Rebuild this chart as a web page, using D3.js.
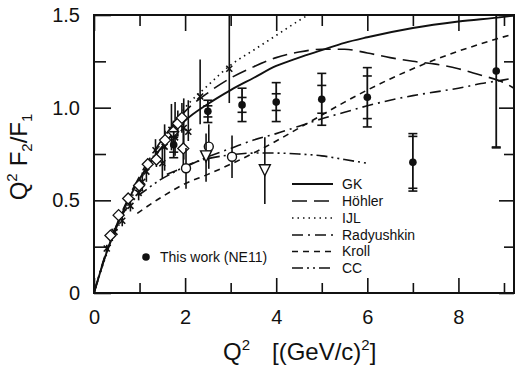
<!DOCTYPE html>
<html><head><meta charset="utf-8">
<script src="https://cdn.jsdelivr.net/npm/d3@7"></script>
<style>
body{margin:0;background:#fff}
svg{display:block}
text{font-family:"Liberation Sans",Arial,Helvetica,sans-serif;fill:#111}
</style>
</head><body><svg id="c" width="515" height="367"></svg>
<script>
// ---------- data ----------
const xMajor = [0, 2, 4, 6, 8];
const xMinor = [1, 3, 5, 7, 9];
const yMajor = [0, 0.5, 1.0, 1.5];
const yLabels = ["0", "0.5", "1.0", "1.5"];
const yMinor = [0.25, 0.75, 1.25];

// model curves [Q2, Q2F2/F1]
const gkCurve = [[0,0],[0.25,0.2],[0.5,0.36],[0.75,0.5],[1,0.615],[1.25,0.71],[1.5,0.79],[1.75,0.865],[2,0.93],[2.5,1.02],[3,1.095],[3.5,1.16],[4,1.225],[4.5,1.27],[5,1.31],[5.5,1.35],[6,1.38],[7,1.43],[8,1.465],[9,1.49],[9.22,1.497]];
const hohlerCurve = [[0,0],[0.25,0.2],[0.5,0.37],[0.75,0.51],[1,0.63],[1.5,0.83],[2,0.98],[2.5,1.08],[3,1.16],[3.5,1.22],[4,1.27],[4.5,1.30],[5,1.315],[5.5,1.315],[6,1.295],[6.5,1.27],[7,1.25],[7.5,1.235],[8,1.21],[8.5,1.175],[9,1.135],[9.22,1.105]];
const ijlCurve = [[0,0],[0.25,0.19],[0.5,0.34],[1,0.6],[1.5,0.82],[2,1.0],[2.5,1.12],[3,1.23],[3.5,1.31],[4,1.39],[4.5,1.47],[4.7,1.5]];
const radyushkinCurve = [[1.6,0.64],[2,0.68],[2.5,0.735],[3,0.78],[3.5,0.825],[4,0.86],[4.5,0.9],[5,0.94],[5.5,0.975],[6,1.01],[6.5,1.04],[7,1.065],[7.5,1.085],[8,1.105],[8.5,1.13],[9,1.15],[9.22,1.16]];
const krollCurve = [[0.95,0.43],[1.5,0.52],[2,0.59],[2.5,0.64],[3,0.695],[3.5,0.755],[4,0.82],[4.5,0.89],[5,0.96],[5.5,1.03],[6,1.095],[6.5,1.155],[7,1.21],[7.5,1.26],[8,1.305],[8.5,1.345],[9.1,1.39]];
const ccCurve = [[0,0],[0.2,0.17],[0.4,0.31],[0.64,0.43],[0.9,0.51],[1.16,0.56],[1.45,0.61],[1.82,0.66],[2.1,0.695],[2.5,0.725],[3,0.745],[3.5,0.755],[4,0.755],[4.5,0.75],[5,0.74],[5.5,0.72],[6,0.70]];

const modelNames = ["GK", "Höhler", "IJL", "Radyushkin", "Kroll", "CC"];
const modelDashes = ["", "15,7", "1.5,4", "11,5,2,5", "6,5", "11,4,2,4,2,4"];

// This work (NE11): filled circles, stat and total errors
const ne11Q2   = [1.75, 2.5, 3.25, 4.0, 5.0, 6.0, 7.0, 8.83];
const ne11Val  = [0.80, 0.98, 1.015, 1.03, 1.045, 1.056, 0.705, 1.198];
const ne11Stat = [0.04, 0.03, 0.04, 0.045, 0.075, 0.115, 0.14, 0.41];
const ne11Tot  = [0.07, 0.06, 0.09, 0.105, 0.14, 0.16, 0.155, 0.415];

// other data: open diamonds
const diaQ2  = [0.36, 0.54, 0.75, 0.99, 1.18, 1.37, 1.56, 1.74, 1.84, 1.93, 1.96];
const diaVal = [0.31, 0.42, 0.51, 0.58, 0.695, 0.72, 0.825, 0.87, 0.915, 0.945, 0.78];
const diaErr = [0.02, 0.02, 0.02, 0.03, 0.03, 0.04, 0.05, 0.06, 0.07, 0.08, 0.12];
// open circles
const circQ2  = [2.02, 2.52, 3.03];
const circVal = [0.673, 0.79, 0.735];
const circErr = [0.11, 0.12, 0.115];
// open down-triangles
const triQ2  = [2.46, 3.75];
const triVal = [0.74, 0.665];
const triLo  = [0.60, 0.48];
const triHi  = [0.86, 0.84];
// crosses
const crsQ2  = [0.28, 0.45, 0.62, 0.80, 0.98, 1.06, 1.15, 1.35, 1.50, 1.55, 1.70, 1.78, 1.97, 2.07, 2.33, 2.97];
const crsVal = [0.24, 0.33, 0.39, 0.47, 0.54, 0.60, 0.655, 0.77, 0.70, 0.79, 0.88, 0.84, 0.89, 0.87, 1.06, 1.21];
const crsLo  = [0.22, 0.31, 0.36, 0.44, 0.50, 0.55, 0.60, 0.71, 0.62, 0.66, 0.77, 0.74, 0.72, 0.82, 0.91, 1.025];
const crsHi  = [0.26, 0.35, 0.42, 0.50, 0.58, 0.65, 0.71, 0.83, 0.79, 0.91, 1.02, 1.03, 1.05, 1.04, 1.26, 1.50];

// ---------- drawing ----------
const svg = d3.select("#c");
const L = 94, R = 514, T = 15, B = 293;
const x = d3.scaleLinear().domain([0, 9.22]).range([L, R]);
const y = d3.scaleLinear().domain([0, 1.5]).range([B, T]);

svg.append("clipPath").attr("id","clip").append("rect")
  .attr("x", L).attr("y", T).attr("width", R - L).attr("height", B - T);

function styleAxis(g){ g.select(".domain").remove(); g.selectAll("line").attr("stroke","#111").attr("stroke-width",1.6); }

// bottom
svg.append("g").attr("transform",`translate(0,${B})`)
  .call(d3.axisBottom(x).tickValues(xMajor).tickSize(-15).tickPadding(17).tickFormat(d3.format("d")))
  .call(styleAxis).call(g=>g.selectAll("text").attr("font-size",20).attr("font-family","Liberation Sans, Arial, sans-serif"));
svg.append("g").attr("transform",`translate(0,${B})`)
  .call(d3.axisBottom(x).tickValues(xMinor).tickSize(-10).tickFormat(""))
  .call(styleAxis);
// top
svg.append("g").attr("transform",`translate(0,${T})`)
  .call(d3.axisTop(x).tickValues(xMajor).tickSize(-16).tickFormat("")).call(styleAxis);
svg.append("g").attr("transform",`translate(0,${T})`)
  .call(d3.axisTop(x).tickValues(xMinor).tickSize(-11).tickFormat("")).call(styleAxis);
// left
svg.append("g").attr("transform",`translate(${L},0)`)
  .call(d3.axisLeft(y).tickValues(yMajor).tickSize(-17).tickPadding(14).tickFormat((d,i)=>yLabels[i]))
  .call(styleAxis).call(g=>g.selectAll("text").attr("font-size",20).attr("font-family","Liberation Sans, Arial, sans-serif"));
svg.append("g").attr("transform",`translate(${L},0)`)
  .call(d3.axisLeft(y).tickValues(yMinor).tickSize(-12).tickFormat("")).call(styleAxis);
// right
svg.append("g").attr("transform",`translate(${R},0)`)
  .call(d3.axisRight(y).tickValues(yMajor).tickSize(-15).tickFormat("")).call(styleAxis);
svg.append("g").attr("transform",`translate(${R},0)`)
  .call(d3.axisRight(y).tickValues(yMinor).tickSize(-10).tickFormat("")).call(styleAxis);

// frame
svg.append("rect").attr("x",L).attr("y",T).attr("width",R-L).attr("height",B-T)
  .attr("fill","none").attr("stroke","#111").attr("stroke-width",2);

// curves
const plot = svg.append("g").attr("clip-path","url(#clip)");
const line = d3.line().x(d=>x(d[0])).y(d=>y(d[1])).curve(d3.curveMonotoneX);
const curves = [gkCurve, hohlerCurve, ijlCurve, radyushkinCurve, krollCurve, ccCurve];
curves.forEach((c,i)=>{
  plot.append("path").attr("d", line(c)).attr("fill","none").attr("stroke","#111")
    .attr("stroke-width", i===0 ? 1.9 : 1.6)
    .attr("stroke-dasharray", modelDashes[i] || null);
});

// error bars helper
function vbar(g, q, lo, hi, w){
  g.append("line").attr("x1",x(q)).attr("x2",x(q)).attr("y1",y(lo)).attr("y2",y(hi))
    .attr("stroke","#111").attr("stroke-width",w||1.6);
}
function cap(g, q, v, half){
  g.append("line").attr("x1",x(q)-half).attr("x2",x(q)+half).attr("y1",y(v)).attr("y2",y(v))
    .attr("stroke","#111").attr("stroke-width",1.6);
}

// crosses
crsQ2.forEach((q,i)=>{
  vbar(plot, q, crsLo[i], crsHi[i]);
  const cx = x(q), cy = y(crsVal[i]), s = 3;
  plot.append("path").attr("d",`M${cx-s},${cy-s}L${cx+s},${cy+s}M${cx-s},${cy+s}L${cx+s},${cy-s}`)
    .attr("stroke","#111").attr("stroke-width",1.6);
});
// diamonds
diaQ2.forEach((q,i)=>{
  vbar(plot, q, diaVal[i]-diaErr[i], diaVal[i]+diaErr[i]);
});
plot.selectAll(".dia").data(diaQ2).enter().append("path")
  .attr("d",(q,i)=>{const cx=x(q),cy=y(diaVal[i]),s=5.5;return `M${cx},${cy-s}L${cx+s},${cy}L${cx},${cy+s}L${cx-s},${cy}Z`;})
  .attr("fill","#fff").attr("stroke","#111").attr("stroke-width",1.3);
// open circles
circQ2.forEach((q,i)=> vbar(plot, q, circVal[i]-circErr[i], circVal[i]+circErr[i]));
plot.selectAll(".oc").data(circQ2).enter().append("circle")
  .attr("cx",q=>x(q)).attr("cy",(q,i)=>y(circVal[i])).attr("r",4.5)
  .attr("fill","#fff").attr("stroke","#111").attr("stroke-width",1.4);
// triangles
triQ2.forEach((q,i)=> vbar(plot, q, triLo[i], triHi[i]));
plot.selectAll(".tri").data(triQ2).enter().append("path")
  .attr("d",(q,i)=>{const cx=x(q),cy=y(triVal[i]);return `M${cx-5.5},${cy-5}L${cx+5.5},${cy-5}L${cx},${cy+6}Z`;})
  .attr("fill","#fff").attr("stroke","#111").attr("stroke-width",1.4);

// NE11
ne11Q2.forEach((q,i)=>{
  const v = ne11Val[i];
  vbar(plot, q, v - ne11Tot[i], v + ne11Tot[i], 1.8);
  cap(plot, q, v - ne11Stat[i], 4.5); cap(plot, q, v + ne11Stat[i], 4.5);
  cap(plot, q, v - ne11Tot[i], 4.5); cap(plot, q, v + ne11Tot[i], 4.5);
});
plot.selectAll(".ne").data(ne11Q2).enter().append("circle")
  .attr("cx",q=>x(q)).attr("cy",(q,i)=>y(ne11Val[i])).attr("r",3.8).attr("fill","#111");

// legend
const legY = [184, 201, 218, 235, 251.5, 268];
modelNames.forEach((n,i)=>{
  svg.append("line").attr("x1",292).attr("x2",333).attr("y1",legY[i]).attr("y2",legY[i])
    .attr("stroke","#111").attr("stroke-width",i===0?1.9:1.6).attr("stroke-dasharray",modelDashes[i]||null);
  svg.append("text").attr("x",342).attr("y",legY[i]).attr("dy","0.35em").attr("font-size",14).text(n);
});
svg.append("circle").attr("cx",146).attr("cy",257).attr("r",3.8).attr("fill","#111");
svg.append("text").attr("x",160).attr("y",257).attr("dy","0.35em").attr("font-size",14).text("This work (NE11)");

// axis titles
const xt = svg.append("text").attr("x",223).attr("y",360).attr("font-size",24);
xt.append("tspan").text("Q");
xt.append("tspan").attr("font-size",15).attr("dy",-10).text("2");
xt.append("tspan").attr("dy",10).attr("dx",22).text("[(GeV/c)");
xt.append("tspan").attr("font-size",15).attr("dy",-10).text("2");
xt.append("tspan").attr("dy",10).text("]");

const yt = svg.append("text").attr("transform","translate(27,157) rotate(-90)")
  .attr("text-anchor","middle").attr("font-size",24);
yt.append("tspan").text("Q");
yt.append("tspan").attr("font-size",15).attr("dy",-10).text("2");
yt.append("tspan").attr("dy",10).attr("dx",7).text("F");
yt.append("tspan").attr("font-size",15).attr("dy",5).text("2");
yt.append("tspan").attr("dy",-5).text("/F");
yt.append("tspan").attr("font-size",15).attr("dy",5).text("1");
</script></body></html>
